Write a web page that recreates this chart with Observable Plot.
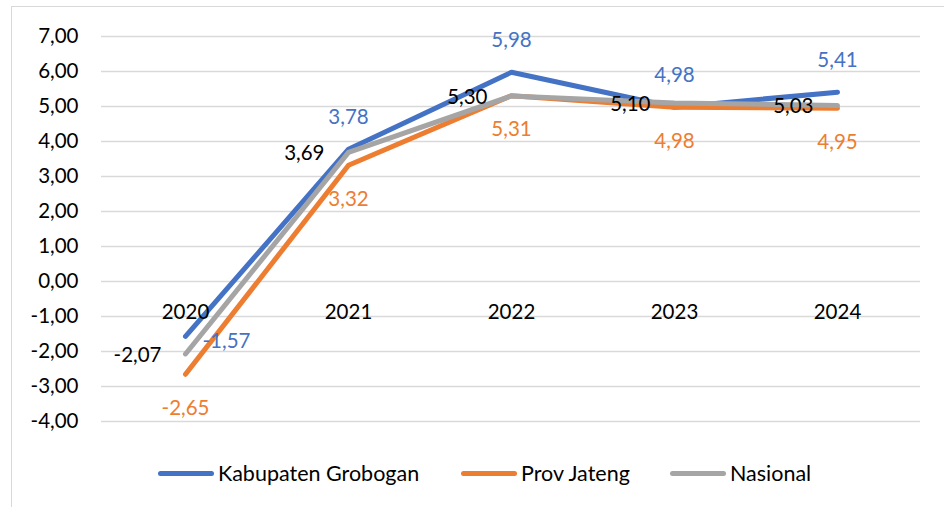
<!DOCTYPE html>
<html>
<head>
<meta charset="utf-8">
<script src="https://cdn.jsdelivr.net/npm/d3@7"></script>
<script src="https://cdn.jsdelivr.net/npm/@observablehq/plot@0.6"></script>
<style>
  html, body { margin: 0; padding: 0; background: #fff; }
  #wrap { position: relative; width: 944px; height: 507px; overflow: hidden; font-family: Lato, "Open Sans", sans-serif; }
  #frame { position: absolute; left: 11px; top: 6px; width: 1000px; height: 600px; border: 1.5px solid #d9d9d9; box-sizing: border-box; z-index: 2; pointer-events: none; }
  #chart { position: absolute; left: 0; top: 0; z-index: 1; }
  .item { position: absolute; top: 460px; height: 26px; display: flex; align-items: center; font-size: 21.5px; color: #000; white-space: nowrap; }
  .sw { width: 56px; height: 5px; border-radius: 3px; margin-right: 4px; }
</style>
</head>
<body>
<div id="wrap">
  <div id="frame"></div>
  <div id="chart"></div>
  <div id="legend"></div>
</div>
<script>
const years = ["2020", "2021", "2022", "2023", "2024"];
const grobogan = [-1.57, 3.78, 5.98, 4.98, 5.41];
const jateng = [-2.65, 3.32, 5.31, 4.98, 4.95];
const nasional = [-2.07, 3.69, 5.30, 5.10, 5.03];
const seriesNames = ["Kabupaten Grobogan", "Prov Jateng", "Nasional"];
const seriesColors = ["#4472C4", "#ED7D31", "#A5A5A5"];
const yTicks = [-4, -3, -2, -1, 0, 1, 2, 3, 4, 5, 6, 7];

const fmt = v => v.toFixed(2).replace(".", ",");
const allValues = [grobogan, jateng, nasional];
const rows = [];
allValues.forEach((vals, s) => vals.forEach((v, i) => rows.push({series: seriesNames[s], year: years[i], value: v, idx: i})));

const blueRows = rows.filter(d => d.series === seriesNames[0]);
const orangeRows = rows.filter(d => d.series === seriesNames[1]);
const grayRows = rows.filter(d => d.series === seriesNames[2]);
const FS = 20.5;

const chart = Plot.plot({
  width: 944,
  height: 440,
  marginLeft: 101,
  marginRight: 24,
  marginTop: 36,
  marginBottom: 19,
  style: {fontFamily: "Lato, 'Open Sans', sans-serif", fontSize: FS + "px", color: "#000", background: "transparent", overflow: "visible"},
  x: {type: "point", domain: years, padding: 0.5, axis: null},
  y: {domain: [-4, 7], axis: null, label: null},
  color: {domain: seriesNames, range: seriesColors},
  marks: [
    Plot.gridY(yTicks, {stroke: "#d9d9d9", strokeOpacity: 1, strokeWidth: 1.6}),
    Plot.axisY(yTicks, {tickSize: 0, tickPadding: 23, tickFormat: fmt, fontSize: FS, fill: "#000", label: null}),
    Plot.line(rows, {x: "year", y: "value", z: "series", stroke: "series", strokeWidth: 5, strokeLinecap: "round", strokeLinejoin: "round"}),
    Plot.text(years, {x: d => d, y: () => 0, dy: 31, text: d => d, fill: "#000", fontSize: FS}),
    Plot.text(blueRows.filter(d => d.idx > 0), {x: "year", y: "value", dy: -32, text: d => fmt(d.value), fill: seriesColors[0], fontSize: FS}),
    Plot.text(blueRows.filter(d => d.idx === 0), {x: "year", y: "value", dx: 17, dy: 5, textAnchor: "start", text: d => fmt(d.value), fill: seriesColors[0], fontSize: FS}),
    Plot.text(orangeRows, {x: "year", y: "value", dy: 34, text: d => fmt(d.value), fill: seriesColors[1], fontSize: FS}),
    Plot.text(grayRows, {x: "year", y: "value", dx: -24, dy: 1, textAnchor: "end", text: d => fmt(d.value), fill: "#000", fontSize: FS})
  ]
});
document.getElementById("chart").appendChild(chart);

const legendLeft = [158, 461, 670];
const legend = document.getElementById("legend");
seriesNames.forEach((name, i) => {
  const item = document.createElement("div");
  item.className = "item";
  item.style.left = legendLeft[i] + "px";
  const sw = document.createElement("div");
  sw.className = "sw";
  sw.style.background = seriesColors[i];
  const label = document.createElement("span");
  label.textContent = name;
  item.appendChild(sw);
  item.appendChild(label);
  legend.appendChild(item);
});
</script>
</body>
</html>
